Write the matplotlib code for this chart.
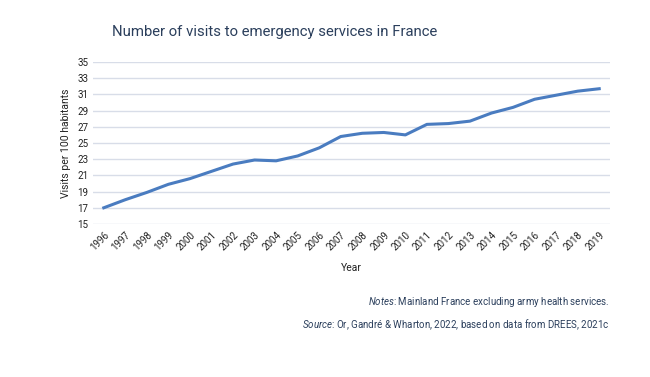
import matplotlib.pyplot as plt
from matplotlib import font_manager

years = [str(y) for y in range(1996, 2020)]
visits = [17.0, 18.0, 18.9, 19.9, 20.6, 21.5, 22.4, 22.9, 22.8, 23.4, 24.4, 25.8,
          26.2, 26.3, 26.0, 27.3, 27.4, 27.7, 28.7, 29.4, 30.4, 30.9, 31.4, 31.7]
yticks = list(range(15, 36, 2))

names = {f.name for f in font_manager.fontManager.ttflist}
fam = 'Liberation Sans Narrow' if 'Liberation Sans Narrow' in names else 'Roboto'
plt.rcParams['font.family'] = [fam, 'DejaVu Sans']
plt.rcParams['mathtext.fontset'] = 'custom'
plt.rcParams['mathtext.it'] = fam + ':italic'
plt.rcParams['mathtext.rm'] = fam

fig = plt.figure(figsize=(6.5, 3.77), dpi=100)
ax = fig.add_axes([93 / 650, 1 - 224 / 377, (610 - 93) / 650, (224 - 62) / 377])

x = list(range(len(years)))
ax.plot(x, visits, color='#4a7cc0', linewidth=2.2, solid_joinstyle='round')

ax.set_ylim(15, 35)
ax.set_xlim(-0.5, len(years) - 0.5)
ax.set_yticks(yticks)
ax.set_xticks(x)
ax.set_xticklabels(years, rotation=45, ha='right', rotation_mode='anchor')
ax.tick_params(axis='both', length=0, labelsize=7, colors='#222222')
ax.tick_params(axis='x', pad=4)
ax.grid(axis='y', color='#d8dde8', linewidth=1)
ax.set_axisbelow(True)
for s in ax.spines.values():
    s.set_visible(False)

ax.set_ylabel('Visits per 100 habitants', fontsize=7.5, color='#222222', labelpad=4)
ax.set_xlabel('Year', fontsize=7.5, color='#222222', labelpad=8)

fig.text(112 / 650, 1 - 32 / 377, 'Number of visits to emergency services in France',
         fontsize=10.7, color='#2b3f5c', va='center', ha='left')
fig.text(610 / 650, 1 - 302 / 377, r'$\it{Notes}$: Mainland France excluding army health services.',
         fontsize=7, color='#2b3f5c', va='center', ha='right')
fig.text(610 / 650, 1 - 325 / 377, r'$\it{Source}$: Or, Gandré & Wharton, 2022, based on data from DREES, 2021c',
         fontsize=7, color='#2b3f5c', va='center', ha='right')

fig.savefig('out.png', dpi=100)
